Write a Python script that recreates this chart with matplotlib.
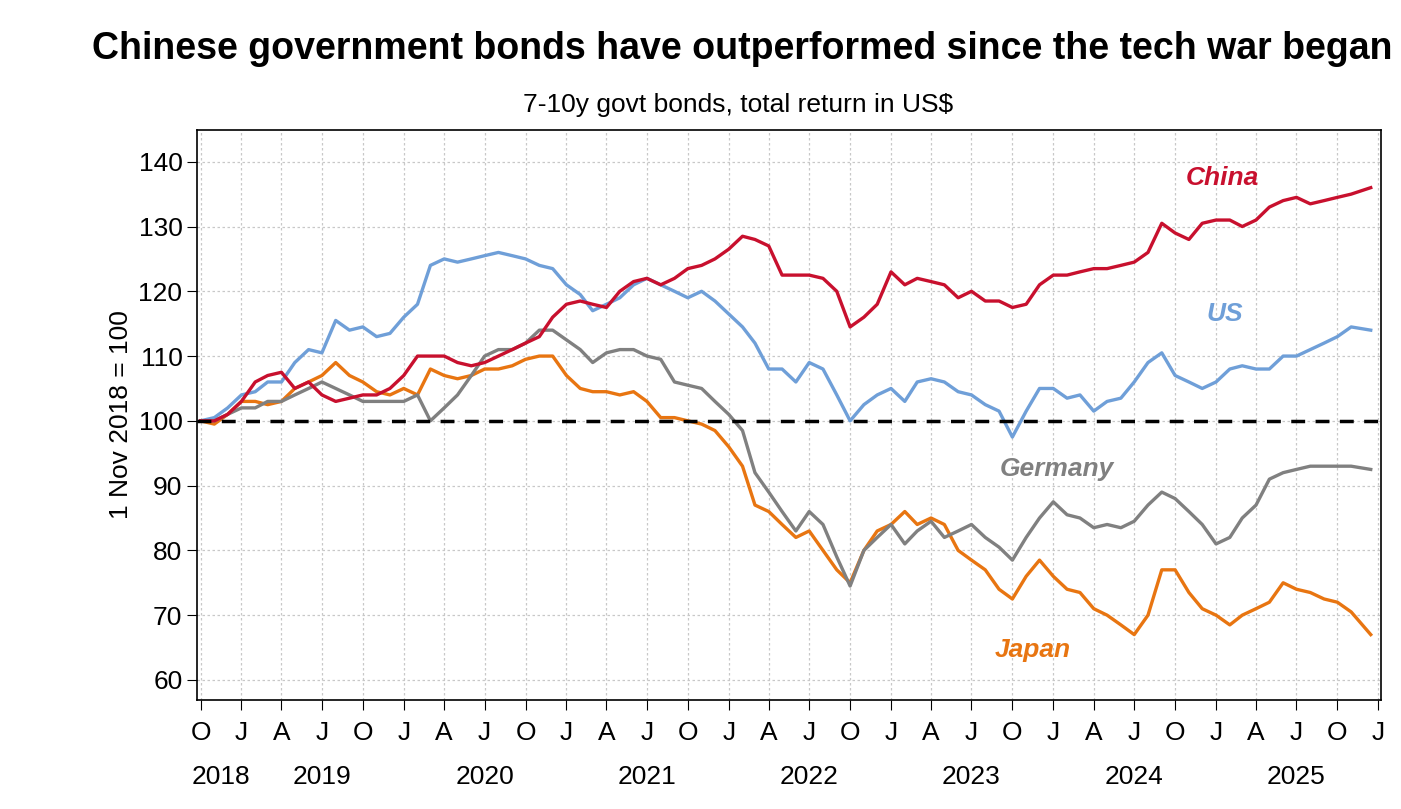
import matplotlib
matplotlib.use("Agg")
import matplotlib.pyplot as plt
import matplotlib.transforms as mtrans
import pandas as pd

plt.rcParams['font.family'] = ['Liberation Sans Narrow', 'Liberation Sans', 'DejaVu Sans']

dates = list(pd.date_range("2018-10-01", "2025-11-01", freq="MS")) + [pd.Timestamp("2025-12-15")]

china = [100,100,101,103,106,107,107.5,105,106,104,103,103.5,104,104,105,107,110,110,110,109,108.5,109,110,111,112,113,116,
         118,118.5,118,117.5,120,121.5,122,121,122,123.5,124,125,126.5,128.5,128,127,122.5,122.5,122.5,122,120,114.5,116,118,
         123,121,122,121.5,121,119,120,118.5,118.5,117.5,118,121,122.5,122.5,123,123.5,123.5,124,124.5,126,130.5,129,128,130.5,
         131,131,130,131,133,134,134.5,133.5,134,134.5,135,136]
us = [100,100.5,102,104,104.5,106,106,109,111,110.5,115.5,114,114.5,113,113.5,116,118,124,125,124.5,125,125.5,126,125.5,125,124,123.5,
      121,119.5,117,118,119,121,122,121,120,119,120,118.5,116.5,114.5,112,108,108,106,109,108,104,100,102.5,104,
      105,103,106,106.5,106,104.5,104,102.5,101.5,97.5,101.5,105,105,103.5,104,101.5,103,103.5,106,109,110.5,107,106,105,
      106,108,108.5,108,108,110,110,111,112,113,114.5,114]
germany = [100,100,101,102,102,103,103,104,105,106,105,104,103,103,103,103,104,100,102,104,107,110,111,111,112,114,114,
           112.5,111,109,110.5,111,111,110,109.5,106,105.5,105,103,101,98.5,92,89,86,83,86,84,79,74.5,80,82,
           84,81,83,84.5,82,83,84,82,80.5,78.5,82,85,87.5,85.5,85,83.5,84,83.5,84.5,87,89,88,86,84,
           81,82,85,87,91,92,92.5,93,93,93,93,92.5]
japan = [100,99.5,101,103,103,102.5,103,105,106,107,109,107,106,104.5,104,105,104,108,107,106.5,107,108,108,108.5,109.5,110,110,
         107,105,104.5,104.5,104,104.5,103,100.5,100.5,100,99.5,98.5,96,93,87,86,84,82,83,80,77,75,80,83,
         84,86,84,85,84,80,78.5,77,74,72.5,76,78.5,76,74,73.5,71,70,68.5,67,70,77,77,73.5,71,
         70,68.5,70,71,72,75,74,73.5,72.5,72,70.5,67]

series = [("China", china, "#c8102e"), ("US", us, "#6f9fd8"),
          ("Germany", germany, "#808080"), ("Japan", japan, "#e87511")]

fig = plt.figure(figsize=(14.01, 8.09), dpi=100)
ax = fig.add_axes([0.1406, 0.1347, 0.8451, 0.7046])

for name, vals, col in series[::-1]:
    ax.plot(dates, vals, color=col, lw=2.4)

ax.axhline(100, color="black", lw=2.5, ls=(0, (4, 3)), zorder=5)

ax.set_xlim(pd.Timestamp("2018-09-23"), pd.Timestamp("2026-01-07"))
ax.set_ylim(56.9, 144.9)
ax.set_yticks(range(60, 141, 10))
ticks = pd.date_range("2018-10-01", "2026-01-01", freq="QS-JAN")
ax.set_xticks(ticks)
letters = {1: "J", 4: "A", 7: "J", 10: "O"}
ax.set_xticklabels([letters[t.month] for t in ticks])
ax.tick_params(axis="x", labelsize=19, length=7, direction="out", pad=8)
ax.tick_params(axis="y", labelsize=19, length=7, direction="out")
ax.grid(True, ls=(0, (2, 2)), color="#c8c8c8", lw=0.9)
ax.set_axisbelow(True)
for s in ax.spines.values():
    s.set_linewidth(1.2)

trans = mtrans.blended_transform_factory(ax.transData, ax.transAxes)
yrs = [("2018", "2018-11-16")] + [(str(y), f"{y}-07-01") for y in range(2019, 2026)]
for lab, d in yrs:
    ax.text(pd.Timestamp(d), -0.135, lab, transform=trans, ha="center", va="center", fontsize=19)

ax.set_ylabel("1 Nov 2018 = 100", fontsize=19)

lab_pos = {"China": ("2025-01-15", 137.5), "US": ("2025-01-20", 116.5),
           "Germany": ("2024-01-10", 92.5), "Japan": ("2023-11-15", 64.7)}
for name, vals, col in series:
    d, v = lab_pos[name]
    ax.text(pd.Timestamp(d), v, name, color=col, fontsize=19, fontweight="bold",
            fontstyle="italic", ha="center", va="center")

fig.text(0.53, 0.94, "Chinese government bonds have outperformed since the tech war began",
         ha="center", va="center", fontsize=27, fontweight="bold")
fig.text(0.527, 0.87, "7-10y govt bonds, total return in US$", ha="center", va="center", fontsize=19)

fig.savefig("out.png", dpi=100)
